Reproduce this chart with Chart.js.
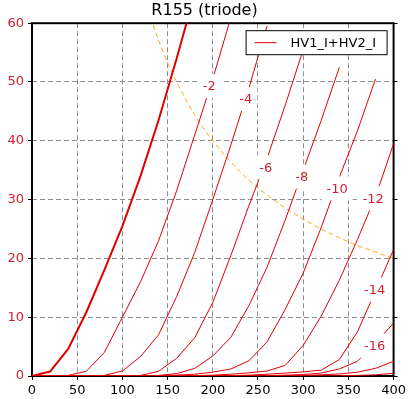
<!DOCTYPE html>
<html>
<head>
<meta charset="utf-8">
<title>R155 (triode)</title>
<script src="https://cdn.jsdelivr.net/npm/chart.js@4.4.0/dist/chart.umd.min.js"></script>
<style>
  html, body { margin: 0; padding: 0; background: #fff; }
  #wrap { width: 409px; height: 399px; }
</style>
</head>
<body>
<div id="wrap"><canvas id="chart" width="409" height="399"></canvas></div>
<script>
/* ── Data: plate current (mA) per grid voltage, one sample every 20 V ── */
const VOLTS = [0, 20, 40, 60, 80, 100, 120, 140, 160, 180, 200,
               220, 240, 260, 280, 300, 320, 340, 360, 380, 400];

const I_G0   = [0, 0.75, 4.6, 10.8, 18, 25.5, 34, 43.5, 54, 65];
const I_G2   = [0, 0, 0.1, 0.8, 4, 10, 16, 23, 31.5, 41, 50.5, 61];
const I_G4   = [0, 0, 0, 0, 0.1, 0.85, 3.3, 7, 13.5, 21, 30, 39.3, 49, 59.5];
const I_G6   = [0, 0, 0, 0, 0, 0, 0.1, 0.8, 3, 6.5, 12.5, 20.5, 29, 37, 46, 55.5];
const I_G8   = [0, 0, 0, 0, 0, 0, 0, 0.1, 0.4, 1.3, 3.4, 6.6, 12, 18.5, 26.5, 35, 43.5, 52.5];
const I_G10  = [0, 0, 0, 0, 0, 0, 0, 0.05, 0.15, 0.3, 0.65, 1.2, 2.6, 5.8, 11.3, 17.5, 25.3, 33.8, 41.7, 50.5];
const I_G12  = [0, 0, 0, 0, 0, 0, 0, 0, 0, 0.05, 0.15, 0.3, 0.55, 0.85, 1.8, 5.2, 10.2, 16.3, 23.2, 30.5, 39.5];
const I_G14  = [0, 0, 0, 0, 0, 0, 0, 0, 0, 0, 0, 0.05, 0.15, 0.3, 0.5, 0.7, 1.0, 2.8, 7.5, 14.5, 21.5];
const I_G16  = [0, 0, 0, 0, 0, 0, 0, 0, 0, 0, 0, 0, 0, 0.05, 0.15, 0.25, 0.5, 1.2, 2.5, 5.6, 9];
const I_G18  = [0, 0, 0, 0, 0, 0, 0, 0, 0, 0, 0, 0, 0, 0, 0, 0.1, 0.2, 0.35, 0.65, 1.3, 2.5];
const I_G20  = [0, 0, 0, 0, 0, 0, 0, 0, 0, 0, 0, 0, 0, 0, 0, 0, 0, 0.05, 0.1, 0.2, 0.45];

const CURVES = [I_G0, I_G2, I_G4, I_G6, I_G8, I_G10, I_G12, I_G14, I_G16, I_G18, I_G20];

/* max plate dissipation line */
const PD_VOLTS   = [134, 140, 150, 160, 180, 200, 220, 240, 260, 280, 300, 320, 340, 360, 380, 400];
const PD_CURRENT = [59.7, 57.1, 53.3, 50, 44.4, 40, 36.4, 33.3, 30.8, 28.6, 26.7, 25, 23.5, 22.2, 21.1, 20];

/* grid-voltage labels sitting on the curves */
const LABEL_TEXT = ['-2', '-4', '-6', '-8', '-10', '-12', '-14', '-16'];
const LABEL_V    = [196, 236.5, 258.5, 298.5, 337.5, 377.5, 379, 379];
const LABEL_I    = [49.3, 47.1, 35.5, 33.9, 31.9, 30.2, 14.7, 5.15];

const LEGEND_TEXT = 'HV1_I+HV2_I';

/* ── Styles ─────────────────────────────────────────────── */
const FONT = '"DejaVu Sans", sans-serif';
const CURVE_RED = '#e00000';
const TEXT_RED = '#d42030';
const GRID_GRAY = '#8e8e8e';

/* ── Plugins ────────────────────────────────────────────── */
const frame = {
  id: 'frame',
  beforeDatasetsDraw(chart) {
    const { ctx, chartArea: a } = chart;
    ctx.save();
    ctx.strokeStyle = '#000';
    ctx.lineWidth = 2;
    ctx.strokeRect(a.left, a.top, a.right - a.left, a.bottom - a.top);
    ctx.restore();
  },
};

const contourLabels = {
  id: 'contourLabels',
  afterDatasetsDraw(chart) {
    const { ctx, scales: { x, y } } = chart;
    ctx.save();
    ctx.font = '13px ' + FONT;
    ctx.textAlign = 'center';
    ctx.textBaseline = 'middle';
    LABEL_TEXT.forEach((t, i) => {
      const px = x.getPixelForValue(LABEL_V[i]);
      const py = y.getPixelForValue(LABEL_I[i]);
      const w = ctx.measureText(t).width + 10;
      ctx.fillStyle = '#fff';
      ctx.fillRect(px - w / 2, py - 12, w, 24);
      ctx.fillStyle = TEXT_RED;
      ctx.fillText(t, px, py + 1);
    });
    ctx.restore();
  },
};

const boxLegend = {
  id: 'boxLegend',
  afterDraw(chart) {
    const { ctx, chartArea: a } = chart;
    const w = 142, h = 25;
    const left = a.right - 6 - w, top = a.top + 7;
    ctx.save();
    ctx.fillStyle = '#fff';
    ctx.fillRect(left, top, w, h);
    ctx.strokeStyle = '#000';
    ctx.lineWidth = 1;
    ctx.strokeRect(left + 0.5, top + 0.5, w - 1, h - 1);
    ctx.strokeStyle = CURVE_RED;
    ctx.beginPath();
    ctx.moveTo(left + 9, top + 12.5);
    ctx.lineTo(left + 31, top + 12.5);
    ctx.stroke();
    ctx.fillStyle = '#000';
    ctx.font = '13px ' + FONT;
    ctx.textBaseline = 'middle';
    ctx.fillText(LEGEND_TEXT, left + 45, top + 13);
    ctx.restore();
  },
};

/* ── Datasets ───────────────────────────────────────────── */
const datasets = CURVES.map((vals, k) => ({
  label: LEGEND_TEXT,
  data: vals.map((v, i) => ({ x: VOLTS[i], y: v })),
  borderColor: CURVE_RED,
  borderWidth: k === 0 ? 2 : 1,
  pointRadius: 0,
  tension: 0,
}));

datasets.push({
  label: 'Pd',
  data: PD_VOLTS.map((v, i) => ({ x: v, y: PD_CURRENT[i] })),
  borderColor: 'rgba(255,160,0,0.9)',
  borderWidth: 1,
  borderDash: [5, 3],
  pointRadius: 0,
  cubicInterpolationMode: 'monotone',
});

/* ── Chart ──────────────────────────────────────────────── */
new Chart(document.getElementById('chart'), {
  type: 'line',
  data: { datasets },
  plugins: [frame, contourLabels, boxLegend],
  options: {
    responsive: false,
    animation: false,
    devicePixelRatio: 1,
    layout: { padding: 0 },
    plugins: {
      legend: { display: false },
      tooltip: { enabled: false },
      title: {
        display: true,
        text: 'R155 (triode)',
        color: '#000',
        font: { family: FONT, size: 16, weight: 'normal' },
        padding: { top: 1, bottom: 3 },
      },
    },
    scales: {
      x: {
        type: 'linear',
        min: 0,
        max: 400,
        ticks: { stepSize: 50, color: '#000', padding: 3, maxRotation: 0,
                 font: { family: FONT, size: 13 } },
        grid: { color: GRID_GRAY, tickColor: '#000', tickLength: 4 },
        border: { display: false, dash: [5, 3] },
        afterFit: s => { s.height = 23; },
      },
      y: {
        type: 'linear',
        min: 0,
        max: 60,
        ticks: { stepSize: 10, color: TEXT_RED, padding: 4,
                 font: { family: FONT, size: 13 } },
        grid: { color: GRID_GRAY, tickColor: '#000', tickLength: 4 },
        border: { display: false, dash: [5, 3] },
        afterFit: s => { s.width = 32; },
      },
      y2: {
        type: 'linear',
        position: 'right',
        min: 0,
        max: 60,
        ticks: { stepSize: 10, display: false },
        grid: { drawOnChartArea: false, tickColor: '#000', tickLength: 4 },
        border: { display: false },
        afterFit: s => { s.width = 15; },
      },
    },
  },
});
</script>
</body>
</html>
